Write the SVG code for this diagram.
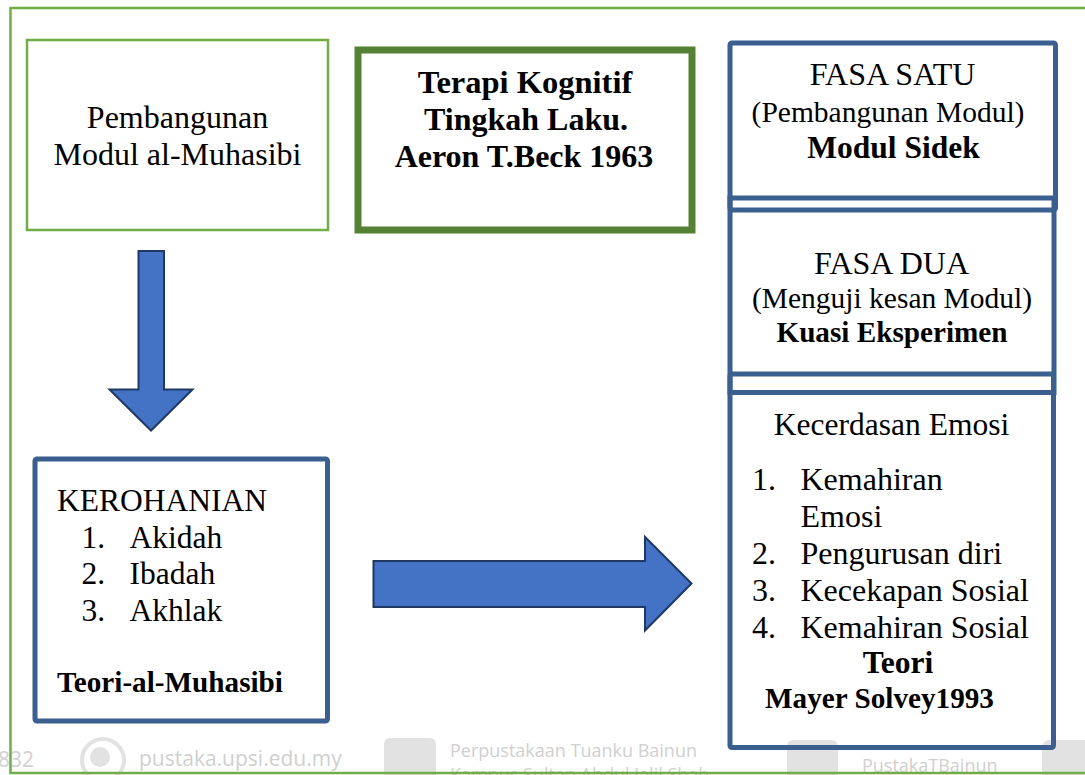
<svg xmlns="http://www.w3.org/2000/svg" width="1085" height="775" viewBox="0 0 1085 775">
<style>
.t{font-family:"Liberation Serif","Times New Roman",serif;font-size:31.5px;fill:#000}
.b{font-weight:bold}
.c{text-anchor:middle}
.s{font-size:29.5px}
.l{font-size:32px}
.n{font-size:29.2px}
.xl{font-size:32.5px}
.blue{fill:none;stroke:#3B5F8F;stroke-width:5}
.arr{fill:#4472C4;stroke:#1F3864;stroke-width:2;stroke-linejoin:miter}
.wm{font-family:"Open Sans","Liberation Sans",sans-serif;fill:#d0d0d0}
.wi{fill:#e2e2e2}
</style>
<rect width="1085" height="775" fill="#fff"/>
<g id="watermark">
<text class="wm" x="-2" y="767" font-size="21">832</text>
<circle cx="103" cy="760" r="21" fill="none" stroke="#e2e2e2" stroke-width="4"/>
<circle class="wi" cx="100" cy="757" r="10"/>
<text class="wm" x="139" y="766" font-size="21">pustaka.upsi.edu.my</text>
<rect class="wi" x="384" y="738" width="52" height="50" rx="6"/>
<text class="wm" x="450" y="757" font-size="18">Perpustakaan Tuanku Bainun</text>
<text class="wm" x="450" y="781" font-size="18">Kampus Sultan Abdul Jalil Shah</text>
<rect class="wi" x="787" y="740" width="51" height="50" rx="6"/>
<text class="wm" x="862" y="772" font-size="18">PustakaTBainun</text>
<rect class="wi" x="1042" y="740" width="50" height="50" rx="8"/>
</g>
<rect id="frame" x="10.5" y="8" width="1090" height="765" fill="none" stroke="#70AD47" stroke-width="2.5"/>
<g id="connectors">
<path class="arr" d="M138.5,251 H164 V389.5 H192.5 L151,430.5 L109.5,389.5 H138.5 Z"/>
<path class="arr" d="M373.5,561 H645 V537 L691.5,583.5 L645,630.5 V607 H373.5 Z"/>
</g>
<g id="pembangunan">
<rect x="27" y="40" width="301" height="190" fill="#fff" stroke="#70AD47" stroke-width="2.5"/>
<text class="t l c" x="177.5" y="128">Pembangunan</text>
<text class="t l c" x="177.5" y="165">Modul al-Muhasibi</text>
</g>
<g id="terapi">
<rect x="358" y="50" width="334" height="180" fill="#fff" stroke="#548235" stroke-width="7"/>
<text class="t b xl c" x="525" y="93">Terapi Kognitif</text>
<text class="t b l c" x="526" y="130">Tingkah Laku.</text>
<text class="t b l c" x="524" y="167">Aeron T.Beck 1963</text>
</g>
<g id="kerohanian">
<rect class="blue" x="35" y="459" width="292.5" height="262" rx="2"/>
<text class="t" x="57" y="511">KEROHANIAN</text>
<text class="t" x="81.5" y="547.5">1.</text><text class="t" x="129.5" y="547.5">Akidah</text>
<text class="t" x="81.5" y="584">2.</text><text class="t" x="129.5" y="584">Ibadah</text>
<text class="t" x="81.5" y="621">3.</text><text class="t" x="129.5" y="621">Akhlak</text>
<text class="t b n" x="57" y="692">Teori-al-Muhasibi</text>
</g>
<g id="kecerdasan">
<rect class="blue" x="730" y="374" width="323.5" height="373.5" rx="2"/>
<text class="t c" x="891.5" y="435">Kecerdasan Emosi</text>
<text class="t l" x="752" y="490">1.</text><text class="t l" x="800.5" y="490">Kemahiran</text>
<text class="t l" x="800.5" y="527">Emosi</text>
<text class="t l" x="752" y="563.5">2.</text><text class="t l" x="800.5" y="563.5">Pengurusan diri</text>
<text class="t l" x="752" y="600.5">3.</text><text class="t l" x="800.5" y="600.5">Kecekapan Sosial</text>
<text class="t l" x="752" y="638">4.</text><text class="t l" x="800.5" y="638">Kemahiran Sosial</text>
<text class="t b c" x="898" y="673">Teori</text>
<text class="t b n c" x="879.5" y="708">Mayer Solvey1993</text>
</g>
<g id="fasa-dua">
<rect class="blue" x="730" y="198" width="324" height="194.5"/>
<text class="t l c" x="891.5" y="273.5">FASA DUA</text>
<text class="t s c" x="892" y="307.5">(Menguji kesan Modul)</text>
<text class="t b n c" x="892" y="341.5">Kuasi Eksperimen</text>
</g>
<g id="fasa-satu">
<rect class="blue" x="730" y="43" width="325.5" height="167" rx="2"/>
<text class="t l c" x="892.5" y="84.5">FASA SATU</text>
<text class="t s c" x="888" y="121.5">(Pembangunan Modul)</text>
<text class="t b c" x="893.5" y="158">Modul Sidek</text>
</g>
</svg>
